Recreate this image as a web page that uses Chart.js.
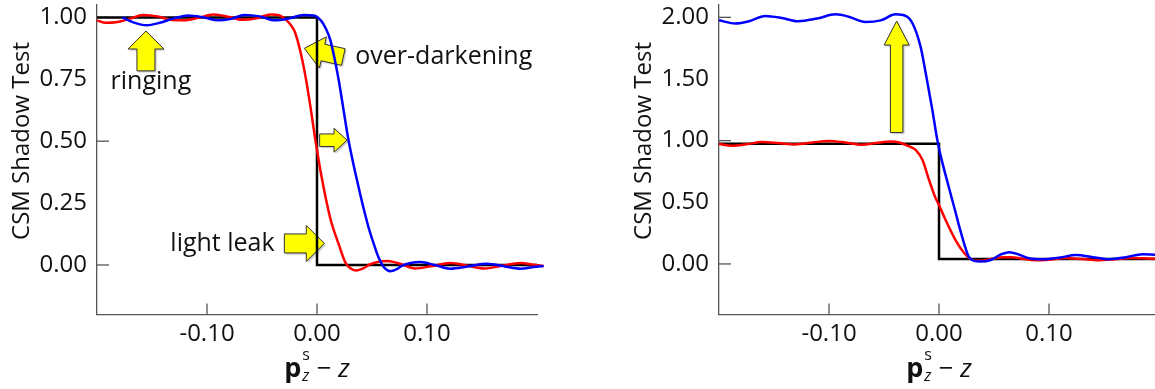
<!DOCTYPE html>
<html><head><meta charset="utf-8">
<script src="https://cdn.jsdelivr.net/npm/chart.js@4/dist/chart.umd.min.js"></script>
<style>
html,body{margin:0;padding:0;background:#fff;overflow:hidden;width:1155px;height:389px;}
.wrap{position:absolute;top:0;width:580px;height:389px;}
#wrapL{left:0;}
#wrapR{left:622px;}
</style></head><body>
<div class="wrap" id="wrapL"><canvas id="cL" width="580" height="389"></canvas></div>
<div class="wrap" id="wrapR"><canvas id="cR" width="580" height="389"></canvas></div>
<script>
// ---------- data ----------
const xTickValues = [-0.1, 0, 0.1];
const leftYTickValues = [0, 0.25, 0.5, 0.75, 1.0];
const rightYTickValues = [0, 0.5, 1.0, 1.5, 2.0];
const leftYMarkValues = [0, 0.5, 1.0];
const rightYMarkValues = [0, 1.0, 2.0];

// left panel
const leftStepX = [-0.2, 0, 0, 0.2];
const leftStepY = [1, 1, 0, 0];
const leftRedX = [-0.200,-0.192,-0.183,-0.170,-0.158,-0.145,-0.133,-0.122,-0.108,-0.094,-0.081,-0.068,-0.055,-0.042,-0.034,-0.028,-0.024,-0.020,-0.015,-0.010,-0.006,-0.002,0.004,0.012,0.020,0.026,0.031,0.036,0.042,0.048,0.056,0.064,0.076,0.089,0.105,0.121,0.136,0.152,0.168,0.185,0.197,0.206];
const leftRedY = [0.988,0.978,0.980,0.995,1.010,1.004,0.990,0.988,0.998,1.012,1.003,0.990,0.996,1.012,1.008,0.990,0.970,0.940,0.860,0.750,0.640,0.520,0.360,0.190,0.080,0.008,-0.015,-0.022,-0.014,0.002,0.013,0.016,0.004,-0.014,-0.004,0.008,-0.002,-0.014,-0.003,0.008,0.001,-0.004];
const leftBlueX = [-0.177,-0.167,-0.155,-0.143,-0.130,-0.117,-0.103,-0.090,-0.078,-0.066,-0.052,-0.038,-0.025,-0.012,-0.003,0.004,0.008,0.012,0.0166,0.020,0.024,0.028,0.032,0.037,0.042,0.047,0.052,0.056,0.061,0.0667,0.072,0.077,0.085,0.094,0.107,0.121,0.138,0.1545,0.170,0.185,0.197,0.206];
const leftBlueY = [1.000,0.980,0.968,0.978,0.996,1.008,1.000,0.988,0.994,1.010,1.004,0.988,0.996,1.010,1.008,0.985,0.955,0.910,0.820,0.740,0.630,0.520,0.430,0.330,0.235,0.150,0.080,0.030,-0.010,-0.025,-0.018,-0.004,0.008,0.012,0.000,-0.015,-0.005,0.005,-0.005,-0.015,-0.008,-0.004];

// right panel
const rightStepX = [-0.2, 0, 0, 0.2];
const rightStepY = [0.975, 0.975, 0.04, 0.04];
const rightRedX = [-0.200,-0.188,-0.175,-0.161,-0.146,-0.131,-0.115,-0.100,-0.085,-0.070,-0.057,-0.044,-0.036,-0.030,-0.025,-0.021,-0.015,-0.009,-0.003,0.000,0.006,0.015,0.023,0.029,0.035,0.042,0.050,0.058,0.066,0.076,0.088,0.100,0.115,0.130,0.145,0.160,0.175,0.190,0.205];
const rightRedY = [0.972,0.958,0.970,0.988,0.980,0.969,0.985,0.998,0.985,0.966,0.980,0.992,0.985,0.964,0.945,0.923,0.842,0.680,0.532,0.478,0.356,0.194,0.087,0.038,0.025,0.030,0.045,0.055,0.055,0.042,0.030,0.035,0.048,0.040,0.030,0.038,0.048,0.045,0.040];
const rightBlueX = [-0.200,-0.185,-0.172,-0.158,-0.143,-0.128,-0.111,-0.094,-0.082,-0.067,-0.053,-0.0395,-0.030,-0.024,-0.0167,-0.012,-0.006,-0.0015,0.002,0.006,0.0137,0.021,0.027,0.032,0.038,0.047,0.055,0.064,0.073,0.082,0.094,0.110,0.1246,0.140,0.155,0.170,0.185,0.200,0.210];
const rightBlueY = [1.976,1.950,1.970,2.011,1.995,1.968,1.990,2.024,2.005,1.962,1.975,2.024,2.010,1.950,1.760,1.544,1.247,1.004,0.860,0.720,0.464,0.221,0.059,0.025,0.019,0.032,0.072,0.095,0.075,0.046,0.038,0.052,0.073,0.055,0.038,0.055,0.079,0.072,0.060];

// annotations (data coordinates)
const leftArrows = [
  {from:[-0.1555,0.784], to:[-0.1555,0.945], shaft:18, head:36, headLen:18},
  {from:[0.0239,0.840], to:[-0.0115,0.875], shaft:17, head:32, headLen:19},
  {from:[0.0024,0.504], to:[0.0273,0.504], shaft:12.5, head:24, headLen:13},
  {from:[-0.0297,0.087], to:[0.0066,0.087], shaft:19, head:36, headLen:18}
];
const leftNotes = [
  {text:'ringing', at:[-0.151,0.710], align:'center'},
  {text:'over-darkening', at:[0.0348,0.810], align:'left'},
  {text:'light leak', at:[-0.0385,0.055], align:'right'}
];
const rightArrows = [
  {from:[-0.0385,1.066], to:[-0.0385,1.97], shaft:12.5, head:25, headLen:24}
];
const rightNotes = [];

// ---------- helpers ----------
const FONT = '"Open Sans", "Noto Sans", sans-serif';
const pts = (xs, ys) => xs.map((x, i) => ({x, y: ys[i]}));

function arrowPath(ctx, x0, y0, x1, y1, sw, hw, hl) {
  const dx = x1 - x0, dy = y1 - y0, len = Math.hypot(dx, dy);
  const ux = dx / len, uy = dy / len, nx = -uy, ny = ux;
  const bx = x1 - ux * hl, by = y1 - uy * hl;
  const p = [
    [x0 + nx*sw/2, y0 + ny*sw/2], [bx + nx*sw/2, by + ny*sw/2], [bx + nx*hw/2, by + ny*hw/2],
    [x1, y1],
    [bx - nx*hw/2, by - ny*hw/2], [bx - nx*sw/2, by - ny*sw/2], [x0 - nx*sw/2, y0 - ny*sw/2]
  ];
  ctx.beginPath();
  p.forEach((q, i) => i ? ctx.lineTo(q[0], q[1]) : ctx.moveTo(q[0], q[1]));
  ctx.closePath();
}

const decoPlugin = {
  id: 'deco',
  beforeDatasetsDraw(chart, args, o) {
    const ctx = chart.ctx, ca = chart.chartArea, xs = chart.scales.x, ys = chart.scales.y;
    ctx.save();
    ctx.strokeStyle = '#555'; ctx.lineWidth = 1.3;
    o.yMarks.forEach(v => {
      const y = ys.getPixelForValue(v);
      ctx.beginPath(); ctx.moveTo(ca.left, y); ctx.lineTo(ca.left + 12, y); ctx.stroke();
    });
    o.xMarks.forEach(v => {
      const x = xs.getPixelForValue(v);
      ctx.beginPath(); ctx.moveTo(x, ca.bottom); ctx.lineTo(x, ca.bottom - 11); ctx.stroke();
    });
    o.arrows.forEach(a => {
      const x0 = xs.getPixelForValue(a.from[0]), y0 = ys.getPixelForValue(a.from[1]);
      const x1 = xs.getPixelForValue(a.to[0]), y1 = ys.getPixelForValue(a.to[1]);
      ctx.save();
      ctx.shadowColor = 'rgba(0,0,0,0.25)'; ctx.shadowOffsetX = 1.5; ctx.shadowOffsetY = 1.5; ctx.shadowBlur = 1.5;
      arrowPath(ctx, x0, y0, x1, y1, a.shaft, a.head, a.headLen);
      ctx.fillStyle = '#ffff00'; ctx.fill();
      ctx.restore();
      arrowPath(ctx, x0, y0, x1, y1, a.shaft, a.head, a.headLen);
      ctx.strokeStyle = '#333'; ctx.lineWidth = 1; ctx.stroke();
    });
    ctx.restore();
  },
  afterDraw(chart, args, o) {
    const ctx = chart.ctx, ca = chart.chartArea, xs = chart.scales.x, ys = chart.scales.y;
    ctx.save();
    ctx.fillStyle = '#111';
    ctx.font = '25px ' + FONT; ctx.textBaseline = 'alphabetic';
    o.notes.forEach(n => {
      ctx.textAlign = n.align;
      ctx.fillText(n.text, xs.getPixelForValue(n.at[0]), ys.getPixelForValue(n.at[1]));
    });
    ctx.save();
    ctx.translate(29, 141); ctx.rotate(-Math.PI / 2);
    ctx.font = '24px ' + FONT; ctx.textAlign = 'center'; ctx.textBaseline = 'alphabetic';
    ctx.fillText(o.yTitle, 0, 0);
    ctx.restore();
    ctx.textAlign = 'left'; ctx.textBaseline = 'alphabetic';
    const fP = 'bold 27px ' + FONT, fS = '16px ' + FONT, fSi = 'italic 16px ' + FONT,
          fM = '26px ' + FONT, fZ = 'italic 26px ' + FONT;
    const m = (f, t) => { ctx.font = f; return ctx.measureText(t).width; };
    const wp = m(fP, 'p'), ws = Math.max(m(fS, 's'), m(fSi, 'z')), wm = m(fM, ' \u2212 '), wz = m(fZ, 'z');
    const total = wp + 1 + ws + wm + wz;
    let x = (ca.left + ca.right) / 2 - total / 2;
    const base = 376.5;
    ctx.font = fP; ctx.fillText('p', x, base); x += wp + 1;
    ctx.font = fS; ctx.fillText('s', x, 360);
    ctx.font = fSi; ctx.fillText('z', x, 381); x += ws;
    ctx.font = fM; ctx.fillText(' \u2212 ', x, base); x += wm;
    ctx.font = fZ; ctx.fillText('z', x, base);
    ctx.restore();
  }
};

function makeChart(id, step, red, blue, yMin, yMax, yTicks, yMarks, arrows, notes) {
  const line = (d, color, order) => ({
    data: d, borderColor: color, borderWidth: 2.5, pointRadius: 0, fill: false,
    cubicInterpolationMode: 'monotone', clip: false, order
  });
  return new Chart(document.getElementById(id), {
    type: 'line',
    data: { datasets: [
      Object.assign(line(step, '#000000', 3), {tension: 0, cubicInterpolationMode: 'default', borderJoinStyle: 'miter'}),
      line(red, '#ff0000', 2),
      line(blue, '#0000ff', 1)
    ]},
    options: {
      responsive: false, animation: false, devicePixelRatio: 1,
      layout: { autoPadding: false, padding: {left: 0, right: 43, top: 5, bottom: 0} },
      plugins: {
        legend: {display: false}, tooltip: {enabled: false},
        deco: { arrows, notes, yMarks, xMarks: xTickValues, yTitle: 'CSM Shadow Test' }
      },
      scales: {
        x: {
          type: 'linear', min: -0.2, max: 0.2,
          grid: {display: false, drawTicks: false, tickLength: 0},
          border: {display: true, color: '#555', width: 1.3},
          afterBuildTicks: s => { s.ticks = xTickValues.map(v => ({value: v})); },
          afterFit: s => { s.height = 74.5; s.paddingLeft = 0; s.paddingRight = 0; s.paddingTop = 0; s.paddingBottom = 0; },
          ticks: { font: {family: FONT, size: 24}, color: '#111', padding: 5,
                   maxRotation: 0, callback: v => v.toFixed(2) }
        },
        y: {
          type: 'linear', min: yMin, max: yMax,
          grid: {display: false, drawTicks: false, tickLength: 0},
          border: {display: true, color: '#555', width: 1.3},
          afterBuildTicks: s => { s.ticks = yTicks.map(v => ({value: v})); },
          afterFit: s => { s.width = 97; s.paddingLeft = 0; s.paddingRight = 0; s.paddingTop = 0; s.paddingBottom = 0; },
          ticks: { font: {family: FONT, size: 24}, color: '#111', padding: 10,
                   callback: v => v.toFixed(2) }
        }
      }
    },
    plugins: [decoPlugin]
  });
}

makeChart('cL', pts(leftStepX, leftStepY), pts(leftRedX, leftRedY), pts(leftBlueX, leftBlueY),
          -0.2, 1.05, leftYTickValues, leftYMarkValues, leftArrows, leftNotes);
makeChart('cR', pts(rightStepX, rightStepY), pts(rightRedX, rightRedY), pts(rightBlueX, rightBlueY),
          -0.41, 2.1, rightYTickValues, rightYMarkValues, rightArrows, rightNotes);
</script>
</body></html>
